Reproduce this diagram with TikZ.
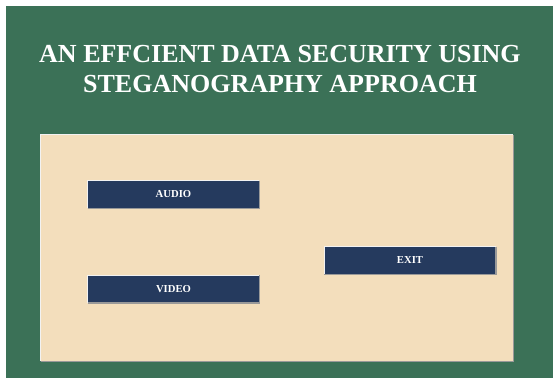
\documentclass[tikz,border=0pt]{standalone}
\usepackage{fontspec}
\setmainfont{Liberation Serif}
\definecolor{bggreen}{HTML}{3B7157}
\definecolor{panelbeige}{HTML}{F3DEBC}
\definecolor{btnblue}{HTML}{253A5E}

\begin{document}
\begin{tikzpicture}[x=0.75pt,y=-0.75pt,
    button/.style={fill=btnblue,text=white,inner sep=0pt,
      font=\bfseries\fontsize{8}{9}\selectfont,
      minimum width=128.25pt,minimum height=20.25pt}]
    % sfondo
    \useasboundingbox[fill=white] (0,0) rectangle (553,378);
    \fill[bggreen] (6,6) rectangle (553,378);

    % titolo
    \node[text=white,font=\bfseries\fontsize{19.5}{22.5}\selectfont,align=center]
      (title) at (280,69) {AN EFFCIENT DATA SECURITY USING\\STEGANOGRAPHY APPROACH};

    % pannello e bottoni
    \node[fill=panelbeige,minimum width=354pt,minimum height=169.5pt,inner sep=0pt]
      (panel) at (277,248) {};
    \node[button] (audio) at (173.5,194.5) {AUDIO};
    \node[button] (video) at (173.5,289) {VIDEO};
    \node[button] (exit) at (410,260.5) {EXIT};

    % bordi in rilievo
    \foreach \N in {panel,audio,video,exit} {
      \draw[white!90!gray,line width=1.1pt] (\N.south west) |- (\N.north east);
      \draw[gray!80,line width=1.1pt] (\N.south west) -| (\N.north east);
    }
\end{tikzpicture}
\end{document}
